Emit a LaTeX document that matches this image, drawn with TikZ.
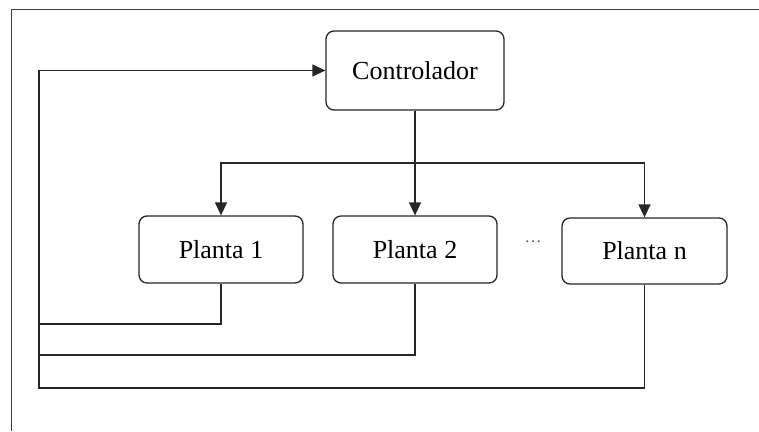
\documentclass[tikz,border=0pt]{standalone}
\usepackage{fontspec}
\setmainfont{Liberation Serif}
\usetikzlibrary{arrows.meta}
\definecolor{linec}{HTML}{262626}
\definecolor{framec}{HTML}{3C3A32}
\definecolor{dotc}{HTML}{4A5A7A}
\tikzset{
  blockbox/.style={draw=linec, line width=1.3pt, rounded corners=8pt, fill=white,
    font=\fontsize{26}{30}\selectfont, inner sep=0pt},
  conn/.style={draw=linec, line width=1.3pt},
  arr/.style={conn, -{Triangle[length=13pt,width=12pt]}},
}
\begin{document}
\begin{tikzpicture}[x=1pt,y=-1pt]
\useasboundingbox (0,0) rectangle (759,431);
\draw[framec, line width=1.6pt] (11.5,431) -- (11.5,9.5) -- (759,9.5);

\node[blockbox, minimum width=178pt, minimum height=79pt] (ctrl) at (415,70.5) {Controlador};
\node[blockbox, minimum width=164pt, minimum height=67pt] (p1) at (221,249.5) {Planta 1};
\node[blockbox, minimum width=164pt, minimum height=67pt] (p2) at (415,249.5) {Planta 2};
\node[blockbox, minimum width=165pt, minimum height=66pt] (pn) at (644.5,251) {Planta n};
\node[text=dotc, font=\fontsize{17}{20}\selectfont, inner sep=0pt] (dots) at (533,242) {…};

\coordinate (hub) at (415,163);
\coordinate (l1) at (39,324);
\coordinate (l2) at (39,355);
\coordinate (l3) at (39,388);

\draw[conn] (ctrl.south) -- (hub);
\draw[arr] (hub) -| (p1.north);
\draw[arr] (hub) -- (p2.north);
\draw[arr] (hub) -| (pn.north);

\draw[conn] (p1.south) |- (l1);
\draw[conn] (p2.south) |- (l2);
\draw[arr] (pn.south) |- (l3) -- (l3 |- ctrl.west) -- (ctrl.west);
\end{tikzpicture}
\end{document}
